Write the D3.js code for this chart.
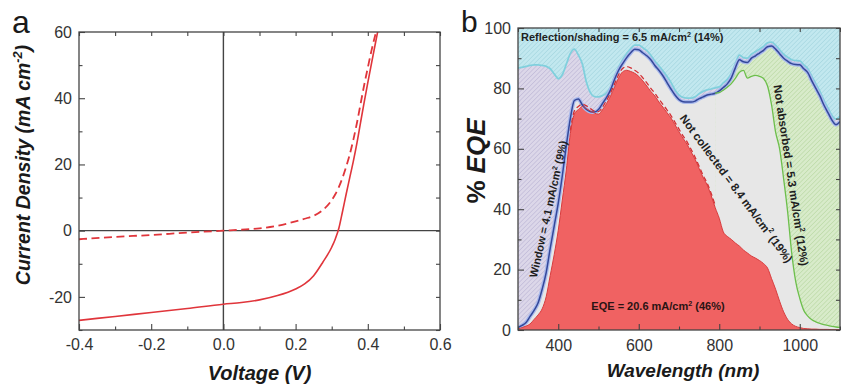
<!DOCTYPE html>
<html>
<head>
<meta charset="utf-8">
<script src="https://cdn.jsdelivr.net/npm/d3@7"></script>
<style>
  body { margin: 0; background: #fff; }
  svg { display: block; font-family: "Liberation Sans", Arial, sans-serif; }
</style>
</head>
<body>
<svg id="chart" width="841" height="384"></svg>
<script>
/** Data, panel a (J-V)
------------------------------------------------------------*/
const voltage = [-0.4, -0.3, -0.2, -0.1, 0, 0.05, 0.1, 0.15, 0.2, 0.225, 0.25, 0.275, 0.3, 0.31,
  0.32, 0.33, 0.34, 0.35, 0.36, 0.37, 0.38, 0.39, 0.4, 0.41, 0.42, 0.43, 0.44];
const jLight = [-27.1, -25.9, -24.7, -23.5, -22.2, -21.7, -20.9, -19.6, -17.6, -16.1, -13.6, -9.6, -5.0, -2.5,
  0.8, 5.8, 11, 16, 21, 26.5, 32.7, 38.8, 44.7, 50.4, 56, 61.5, 67];
const jDark = [-2.6, -1.9, -1.3, -0.6, 0, 0.3, 0.7, 1.5, 2.8, 3.6, 4.5, 6.2, 9.2, 11,
  13.2, 16, 19.3, 23, 27.5, 32.6, 38.3, 44, 49.2, 54.3, 58.8, 63, 67];

const voltTicks = [-0.4, -0.2, 0, 0.2, 0.4, 0.6];
const voltMinor = [-0.3, -0.1, 0.1, 0.3, 0.5];
const jTicks = [-20, 0, 20, 40, 60];
const jMinor = [-30, -10, 10, 30, 50];

/** Data, panel b (EQE loss analysis)
------------------------------------------------------------*/
const wavelength = [300, 310, 320, 330, 340, 350, 360, 370, 380, 390,
  400, 410, 420, 430, 440, 450, 460, 470, 480, 490,
  500, 510, 520, 530, 540, 550, 560, 570, 580, 590,
  600, 610, 620, 630, 640, 650, 660, 670, 680, 690,
  700, 710, 720, 730, 740, 750, 760, 770, 780, 790,
  800, 810, 820, 830, 840, 850, 860, 870, 880, 890,
  900, 910, 920, 930, 940, 950, 960, 970, 980, 990,
  1000, 1010, 1020, 1030, 1040, 1050, 1060, 1070, 1080, 1090,
  1100];

// 1 - reflection/shading (cyan line)
const reflLimit = [86.7, 87.0, 87.3, 87.6, 87.8, 87.8, 87.6, 87.3, 86.5, 84.8,
  83.2, 84.5, 88.0, 91.5, 93.0, 91.0, 88.0, 82.0, 78.5, 77.3,
  77.2, 77.6, 78.5, 80.5, 84.0, 87.0, 89.5, 91.5, 93.2, 94.3,
  94.3, 93.5, 92.5, 91.0, 89.0, 87.5, 85.8, 84.0, 82.0, 79.5,
  77.8, 77.0, 76.8, 76.8, 77.2, 78.2, 79.0, 79.5, 79.8, 80.2,
  80.5, 81.8, 83.0, 85.0, 88.2, 91.0, 90.2, 90.0, 91.3, 92.1,
  93.0, 93.9, 95.1, 95.3, 94.3, 92.8, 91.3, 90.3, 89.5, 89.2,
  89.1, 87.8, 86.5, 84.0, 81.5, 79.0, 76.0, 73.5, 71.0, 69.8,
  70.8];

// after window absorption (dark blue line)
const windowLimit = [0.8, 1.5, 2.5, 4.5, 6.5, 9.0, 13.5, 19.0, 27.0, 34.5,
  42.0, 51.0, 61.0, 70.0, 76.0, 76.5, 74.5, 73.0, 72.3, 72.2,
  73.0, 75.0, 77.0, 79.5, 83.0, 86.0, 88.2, 90.2, 91.8, 93.0,
  92.8, 91.8, 90.8, 89.5, 87.6, 86.0, 84.2, 82.0, 79.8, 77.8,
  76.3, 75.6, 75.5, 75.5, 75.8, 76.6, 77.2, 77.8, 78.1, 78.4,
  79.2, 80.3, 81.5, 83.5, 86.8, 89.5, 88.8, 88.6, 90.0, 90.8,
  91.7, 92.6, 93.8, 94.0, 93.0, 91.5, 90.0, 89.0, 88.2, 87.9,
  87.8, 86.5, 85.2, 82.5, 80.0, 77.5, 74.5, 72.0, 69.5, 68.0,
  69.0];

// measured EQE (red fill)
const eqeMain = [0.3, 0.8, 1.3, 2.0, 3.5, 5.0, 7.0, 11.0, 18.0, 25.0,
  33.0, 43.0, 53.0, 65.0, 71.5, 73.0, 74.0, 73.3, 72.5, 71.8,
  71.5, 73.0, 75.0, 77.5, 80.5, 83.5, 85.5, 86.0, 85.6, 85.0,
  84.0, 82.5, 80.8, 79.0, 77.5, 75.5, 73.8, 72.0, 70.2, 68.0,
  65.6, 63.5, 61.5, 59.0, 56.5, 53.5, 50.5, 48.0, 44.5, 40.5,
  37.0, 32.5, 31.0, 30.0, 28.8, 27.8, 26.5, 25.5, 24.5, 23.8,
  23.0, 22.0, 20.5, 17.0, 13.5, 9.5, 6.0, 3.5, 2.0, 1.2,
  0.8, 0.5, 0.4, 0.3, 0.3, 0.2, 0.2, 0.2, 0.1, 0.1,
  0.1];

// second EQE scan (dashed red)
const dashWave = [430, 440, 450, 460, 470, 480, 490, 500, 510, 520, 530, 540, 550, 560, 570, 580,
  590, 600, 610, 620, 630, 640, 650, 660, 670, 680, 690, 700, 710, 720, 730, 740, 750, 760, 770, 780, 790];
const eqeDash = [66.0, 72.5, 74.0, 74.8, 74.2, 73.3, 72.5, 72.3, 73.8, 76.0, 78.5, 81.5, 84.5, 86.6, 87.2, 86.8,
  86.0, 85.0, 83.5, 81.8, 80.0, 78.4, 76.5, 74.7, 72.9, 71.0, 68.8, 66.5, 64.3, 62.3, 59.8, 57.2, 54.2, 51.2, 48.6, 45.2, 41.2];

// absorption limit (green line), splits from the blue line near 790 nm
const absWave = [790, 800, 810, 820, 830, 840, 850, 860, 870, 880, 890, 900, 910, 920, 930, 940, 950,
  960, 970, 980, 990, 1000, 1010, 1020, 1030, 1040, 1050, 1060, 1070, 1080, 1090, 1100];
const absLimit = [78.4, 78.6, 79.4, 80.4, 81.6, 83.3, 85.3, 86.0, 83.4, 84.0, 84.3, 84.0, 83.3, 80.8, 74.5, 65.5, 60.0,
  50.0, 39.0, 25.5, 16.0, 10.5, 6.5, 4.6, 3.4, 2.7, 2.2, 1.8, 1.5, 1.2, 1.0, 0.9];

const waveTicks = [400, 600, 800, 1000];
const waveMinor = [300, 500, 700, 900, 1100];
const eqeTicks = [0, 20, 40, 60, 80, 100];
const eqeMinor = [10, 30, 50, 70, 90];

const svg = d3.select("#chart");
const axisColor = "#444";

/** Helpers
------------------------------------------------------------*/
function styleAxis(g, size) {
  g.select(".domain").remove();
  g.selectAll(".tick line").attr("stroke", axisColor).attr("stroke-width", 1.1);
  g.selectAll(".tick text")
    .attr("fill", "#333")
    .attr("font-size", size || 16);
}

function frameAxes(x, y, xMaj, xMin, yMaj, yMin, xFmt, yFmt, xPad, yPad) {
  const [x0, x1] = x.range();
  const [y0, y1] = y.range(); // y0 bottom, y1 top

  svg.append("g").attr("transform", `translate(0,${y0})`)
    .call(d3.axisBottom(x).tickValues(xMaj).tickSize(-6).tickPadding(xPad).tickFormat(xFmt))
    .call(g => styleAxis(g));
  svg.append("g").attr("transform", `translate(0,${y0})`)
    .call(d3.axisBottom(x).tickValues(xMin).tickSize(-3.5).tickFormat(""))
    .call(g => styleAxis(g));
  svg.append("g").attr("transform", `translate(0,${y1})`)
    .call(d3.axisTop(x).tickValues(xMaj.concat(xMin)).tickSize(-4).tickFormat(""))
    .call(g => styleAxis(g));

  svg.append("g").attr("transform", `translate(${x0},0)`)
    .call(d3.axisLeft(y).tickValues(yMaj).tickSize(-6).tickPadding(yPad).tickFormat(yFmt))
    .call(g => styleAxis(g));
  svg.append("g").attr("transform", `translate(${x0},0)`)
    .call(d3.axisLeft(y).tickValues(yMin).tickSize(-3.5).tickFormat(""))
    .call(g => styleAxis(g));
  svg.append("g").attr("transform", `translate(${x1},0)`)
    .call(d3.axisRight(y).tickValues(yMaj.concat(yMin)).tickSize(-4).tickFormat(""))
    .call(g => styleAxis(g));

  svg.append("rect")
    .attr("x", x0).attr("y", y1)
    .attr("width", x1 - x0).attr("height", y0 - y1)
    .attr("fill", "none")
    .attr("stroke", axisColor)
    .attr("stroke-width", 1.3);
}

// text with small superscript parts: parts = [[text, sup?], ...]
function richText(sel, parts) {
  const size = +sel.attr("font-size");
  const lift = Math.round(size * 0.4);
  let back = 0;
  parts.forEach(([t, sup]) => {
    const ts = sel.append("tspan").text(t);
    if (sup) {
      ts.attr("dy", -lift).attr("font-size", size * 0.65);
      back = lift;
    } else if (back) {
      ts.attr("dy", back);
      back = 0;
    }
  });
  return sel;
}

const defs = svg.append("defs");

/** Panel a
------------------------------------------------------------*/
const xa = d3.scaleLinear().domain([-0.4, 0.6]).range([79, 440]);
const ya = d3.scaleLinear().domain([-30, 60]).range([330, 32]);

defs.append("clipPath").attr("id", "clipA")
  .append("rect")
  .attr("x", xa.range()[0]).attr("y", ya.range()[1])
  .attr("width", xa.range()[1] - xa.range()[0])
  .attr("height", ya.range()[0] - ya.range()[1]);

// zero lines
svg.append("line")
  .attr("x1", xa(0)).attr("x2", xa(0))
  .attr("y1", ya.range()[0]).attr("y2", ya.range()[1])
  .attr("stroke", axisColor).attr("stroke-width", 1.4);
svg.append("line")
  .attr("x1", xa.range()[0]).attr("x2", xa.range()[1])
  .attr("y1", ya(0)).attr("y2", ya(0))
  .attr("stroke", axisColor).attr("stroke-width", 1.4);

const jvLine = d3.line()
  .x(d => xa(d[0]))
  .y(d => ya(d[1]))
  .curve(d3.curveMonotoneX);

const curvesA = svg.append("g").attr("clip-path", "url(#clipA)");

curvesA.append("path")
  .attr("d", jvLine(voltage.map((v, i) => [v, jDark[i]])))
  .attr("fill", "none")
  .attr("stroke", "#e0353b")
  .attr("stroke-width", 1.8)
  .attr("stroke-dasharray", "8,4.5");

curvesA.append("path")
  .attr("d", jvLine(voltage.map((v, i) => [v, jLight[i]])))
  .attr("fill", "none")
  .attr("stroke", "#e0353b")
  .attr("stroke-width", 1.6);

frameAxes(xa, ya, voltTicks, voltMinor, jTicks, jMinor,
  d => d.toFixed(1), d => String(d), 9, 7);

svg.append("text")
  .attr("x", (xa.range()[0] + xa.range()[1]) / 2)
  .attr("y", 380)
  .attr("text-anchor", "middle")
  .attr("font-size", 20)
  .attr("font-weight", "bold")
  .attr("font-style", "italic")
  .attr("fill", "#1a1a1a")
  .text("Voltage (V)");

richText(
  svg.append("text")
    .attr("transform", "translate(30,165) rotate(-90)")
    .attr("text-anchor", "middle")
    .attr("font-size", 19.5)
    .attr("font-weight", "bold")
    .attr("font-style", "italic")
    .attr("fill", "#1a1a1a"),
  [["Current Density (mA cm"], ["-2", true], [")"]]
);

svg.append("text")
  .attr("x", 12).attr("y", 33)
  .attr("font-size", 32)
  .attr("fill", "#1a1a1a")
  .text("a");

/** Panel b
------------------------------------------------------------*/
const xb = d3.scaleLinear().domain([300, 1100]).range([518, 840]);
const yb = d3.scaleLinear().domain([0, 100]).range([330, 28]);

defs.append("clipPath").attr("id", "clipB")
  .append("rect")
  .attr("x", xb.range()[0]).attr("y", yb.range()[1])
  .attr("width", xb.range()[1] - xb.range()[0])
  .attr("height", yb.range()[0] - yb.range()[1]);

function hatch(id, bg, fg) {
  const p = defs.append("pattern")
    .attr("id", id)
    .attr("patternUnits", "userSpaceOnUse")
    .attr("width", 3.2).attr("height", 3.2)
    .attr("patternTransform", "rotate(45)");
  p.append("rect").attr("width", 3.2).attr("height", 3.2).attr("fill", bg);
  p.append("line")
    .attr("x1", 0).attr("y1", 0).attr("x2", 0).attr("y2", 3.2)
    .attr("stroke", fg).attr("stroke-width", 1.1);
}
hatch("hatchCyan", "#c2e8ef", "#9fd3dd");
hatch("hatchLav", "#dcd7e9", "#bab3d3");
hatch("hatchGreen", "#d8ebca", "#b6d69e");

const rows = wavelength.map((w, i) => ({
  w: w, refl: reflLimit[i], win: windowLimit[i], eqe: eqeMain[i]
}));
const absRows = absWave.map((w, i) => ({ w: w, abs: absLimit[i] }));
const dashRows = dashWave.map((w, i) => ({ w: w, eqe: eqeDash[i] }));

const curve = d3.curveMonotoneX;
const area = (top, bottom) => d3.area()
  .x(d => xb(d.w))
  .y0(bottom)
  .y1(top)
  .curve(curve);
const line = (key) => d3.line()
  .x(d => xb(d.w))
  .y(d => yb(d[key]))
  .curve(curve);

const plotB = svg.append("g").attr("clip-path", "url(#clipB)");

// reflection/shading loss: above the cyan line
plotB.append("path")
  .attr("d", area(d => yb(d.refl), yb(100))(rows))
  .attr("fill", "url(#hatchCyan)");

// window loss: between cyan and blue
plotB.append("path")
  .attr("d", area(d => yb(d.refl), yb(0))(rows))
  .attr("fill", "url(#hatchLav)");

// not absorbed: between blue and green
plotB.append("path")
  .attr("d", area(d => yb(d.win), yb(0))(rows))
  .attr("fill", "url(#hatchGreen)");

// not collected: below blue (short wavelengths) / green (long)
plotB.append("path")
  .attr("d", area(d => yb(d.win), yb(0))(rows.filter(d => d.w <= absWave[0])))
  .attr("fill", "#e7e7e7");
plotB.append("path")
  .attr("d", area(d => yb(d.abs), yb(0))(absRows))
  .attr("fill", "#e7e7e7");

// EQE
plotB.append("path")
  .attr("d", area(d => yb(d.eqe), yb(0))(rows))
  .attr("fill", "#f06262");

plotB.append("path")
  .attr("d", line("refl")(rows))
  .attr("fill", "none")
  .attr("stroke", "#80d0dd")
  .attr("stroke-width", 1.8);

plotB.append("path")
  .attr("d", line("win")(rows))
  .attr("fill", "none")
  .attr("stroke", "#a9b9ec")
  .attr("stroke-width", 4);
plotB.append("path")
  .attr("d", line("win")(rows))
  .attr("fill", "none")
  .attr("stroke", "#34489a")
  .attr("stroke-width", 1.5);

plotB.append("path")
  .attr("d", line("abs")(absRows))
  .attr("fill", "none")
  .attr("stroke", "#6dbf4c")
  .attr("stroke-width", 1.3);

plotB.append("path")
  .attr("d", line("eqe")(dashRows))
  .attr("fill", "none")
  .attr("stroke", "#d32f33")
  .attr("stroke-width", 1.3)
  .attr("stroke-dasharray", "5,3");

plotB.append("path")
  .attr("d", line("eqe")(rows))
  .attr("fill", "none")
  .attr("stroke", "#d83c3e")
  .attr("stroke-width", 1);

frameAxes(xb, yb, waveTicks, waveMinor, eqeTicks, eqeMinor,
  d => String(d), d => String(d), 10, 7);

// region labels
const label = (tf, size) => svg.append("text")
  .attr("transform", tf)
  .attr("text-anchor", "middle")
  .attr("font-size", size || 11)
  .attr("font-weight", "bold")
  .attr("fill", "#1e1e1e");

richText(label("translate(521,41)").attr("text-anchor", "start"),
  [["Reflection/shading = 6.5 mA/cm"], ["2", true], [" (14%)"]]);

richText(label("translate(552,210) rotate(-77.5)"),
  [["Window = 4.1 mA/cm"], ["2", true], [" (9%)"]]);

richText(label("translate(733,191) rotate(53.5)", 11.5),
  [["Not collected = 8.4 mA/cm"], ["2", true], [" (19%)"]]);

richText(label("translate(787,176) rotate(81.5)", 11.5),
  [["Not absorbed = 5.3 mA/cm"], ["2", true], [" (12%)"]]);

richText(label("translate(658,310)").attr("fill", "#2a1414"),
  [["EQE = 20.6 mA/cm"], ["2", true], [" (46%)"]]);

svg.append("text")
  .attr("x", (xb.range()[0] + xb.range()[1]) / 2 + 4)
  .attr("y", 377)
  .attr("text-anchor", "middle")
  .attr("font-size", 19)
  .attr("font-weight", "bold")
  .attr("font-style", "italic")
  .attr("fill", "#1a1a1a")
  .text("Wavelength (nm)");

const eqeTitle = svg.append("text")
  .attr("transform", "translate(485,161) rotate(-90)")
  .attr("text-anchor", "middle")
  .attr("font-size", 26)
  .attr("font-weight", "bold")
  .attr("fill", "#1a1a1a");
eqeTitle.append("tspan").text("%");
eqeTitle.append("tspan").attr("dx", 7).attr("font-style", "italic").text("EQE");

svg.append("text")
  .attr("x", 461).attr("y", 32)
  .attr("font-size", 30)
  .attr("fill", "#1a1a1a")
  .text("b");
</script>
</body>
</html>
